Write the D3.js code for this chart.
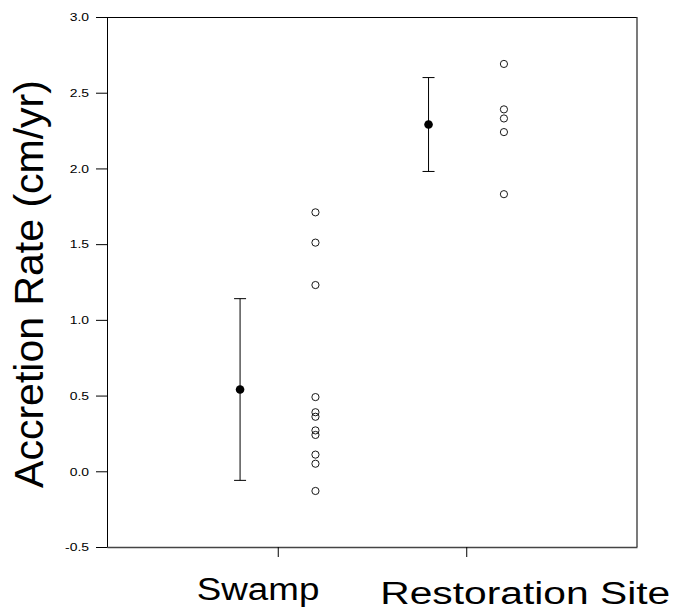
<!DOCTYPE html>
<html>
<head>
<meta charset="utf-8">
<script src="https://cdn.jsdelivr.net/npm/d3@7"></script>
<style>
  body { margin: 0; background: #fff; }
  text { font-family: "Liberation Sans", Arial, sans-serif; fill: #000; }
</style>
</head>
<body>
<div id="chart-area"></div>
<script>
// categories and values
var sites = ["Swamp", "Restoration Site"];
var means = [0.54, 2.29];
var sds = [0.60, 0.31];
var swampRates = [1.71, 1.51, 1.23, 0.49, 0.39, 0.36, 0.27, 0.24, 0.11, 0.05, -0.13];
var restorationRates = [2.69, 2.39, 2.33, 2.24, 1.83];
var yTicks = [-0.5, 0.0, 0.5, 1.0, 1.5, 2.0, 2.5, 3.0];

var margin = {top: 17, right: 36, bottom: 64, left: 107};
var width = 673 - margin.left - margin.right;
var height = 611 - margin.top - margin.bottom;

var svg = d3.select("#chart-area").append("svg")
    .attr("width", 673)
    .attr("height", 611)
  .append("g")
    .attr("transform", "translate(" + margin.left + "," + margin.top + ")");

// x is a linear index scale: 1 = Swamp, 2 = Restoration Site
var pad = 0.906;
var x = d3.scaleLinear().domain([1 - pad, 2 + pad]).range([0, width]);
var y = d3.scaleLinear().domain([-0.5, 3.0]).range([height, 0]);

// frame
svg.append("line").attr("x1", 0).attr("x2", width).attr("y1", 0.5).attr("y2", 0.5)
  .attr("stroke", "#000");
svg.append("line").attr("x1", width).attr("x2", width).attr("y1", 0).attr("y2", height)
  .attr("stroke", "#333").attr("stroke-width", 1.3);

// y axis (plain hyphen for the minus, like the original)
var yAxis = d3.axisLeft(y).tickValues(yTicks).tickSize(11).tickPadding(7)
  .tickFormat(function(d) { return d.toFixed(1); });
var gy = svg.append("g").attr("class", "axis y-axis").call(yAxis);
gy.select(".domain").attr("stroke", "#000");
gy.selectAll(".tick line").attr("stroke", "#000");
gy.selectAll(".tick text")
  .style("font-size", "11.6px")
  .attr("transform", "translate(-18,0) scale(1.2,1) translate(18,0)");

// x axis
var xAxis = d3.axisBottom(x).tickValues([1, 2]).tickSize(10).tickSizeOuter(0).tickFormat("");
var gx = svg.append("g").attr("class", "axis x-axis")
  .attr("transform", "translate(0," + height + ")").call(xAxis);
gx.select(".domain").attr("stroke", "#444").attr("stroke-width", 1.3);
gx.selectAll(".tick line").attr("stroke", "#000");

// category labels
var labelDx = [-19.7, 59];
var labelLen = [122.6, 290];
var labelY = [583, 587];
svg.selectAll(".site-label")
  .data(sites)
  .enter()
  .append("text")
  .attr("class", "site-label")
  .attr("x", function(d, i) { return x(i + 1) + labelDx[i]; })
  .attr("y", function(d, i) { return labelY[i]; })
  .attr("text-anchor", "middle")
  .attr("textLength", function(d, i) { return labelLen[i]; })
  .attr("lengthAdjust", "spacingAndGlyphs")
  .style("font-size", "31px")
  .text(function(d) { return d; });

// y axis title
svg.append("text")
  .attr("transform", "translate(-64," + (height / 2 + 2) + ") rotate(-90)")
  .attr("text-anchor", "middle")
  .style("font-size", "41px")
  .text("Accretion Rate (cm/yr)");

// mean +/- sd
var offset = 0.2;
var capW = 6;
var summary = sites.map(function(s, i) { return {i: i + 1, mean: means[i], sd: sds[i]}; });

var bars = svg.selectAll(".err").data(summary).enter().append("g").attr("class", "err");
bars.append("line")
  .attr("x1", function(d) { return x(d.i - offset); })
  .attr("x2", function(d) { return x(d.i - offset); })
  .attr("y1", function(d) { return y(d.mean + d.sd); })
  .attr("y2", function(d) { return y(d.mean - d.sd); })
  .attr("stroke", "#000");
bars.append("line")
  .attr("x1", function(d) { return x(d.i - offset) - capW; })
  .attr("x2", function(d) { return x(d.i - offset) + capW; })
  .attr("y1", function(d) { return y(d.mean + d.sd); })
  .attr("y2", function(d) { return y(d.mean + d.sd); })
  .attr("stroke", "#000");
bars.append("line")
  .attr("x1", function(d) { return x(d.i - offset) - capW; })
  .attr("x2", function(d) { return x(d.i - offset) + capW; })
  .attr("y1", function(d) { return y(d.mean - d.sd); })
  .attr("y2", function(d) { return y(d.mean - d.sd); })
  .attr("stroke", "#000");
bars.append("circle")
  .attr("cx", function(d) { return x(d.i - offset); })
  .attr("cy", function(d) { return y(d.mean); })
  .attr("r", 4.3)
  .attr("fill", "#000");

// raw points
var raw = [];
swampRates.forEach(function(v) { raw.push({i: 1, v: v}); });
restorationRates.forEach(function(v) { raw.push({i: 2, v: v}); });

svg.selectAll(".pt")
  .data(raw)
  .enter()
  .append("circle")
  .attr("class", "pt")
  .attr("cx", function(d) { return x(d.i + offset); })
  .attr("cy", function(d) { return y(d.v); })
  .attr("r", 3.6)
  .attr("fill", "none")
  .attr("stroke", "#000")
  .attr("stroke-width", 0.9);
</script>
</body>
</html>
